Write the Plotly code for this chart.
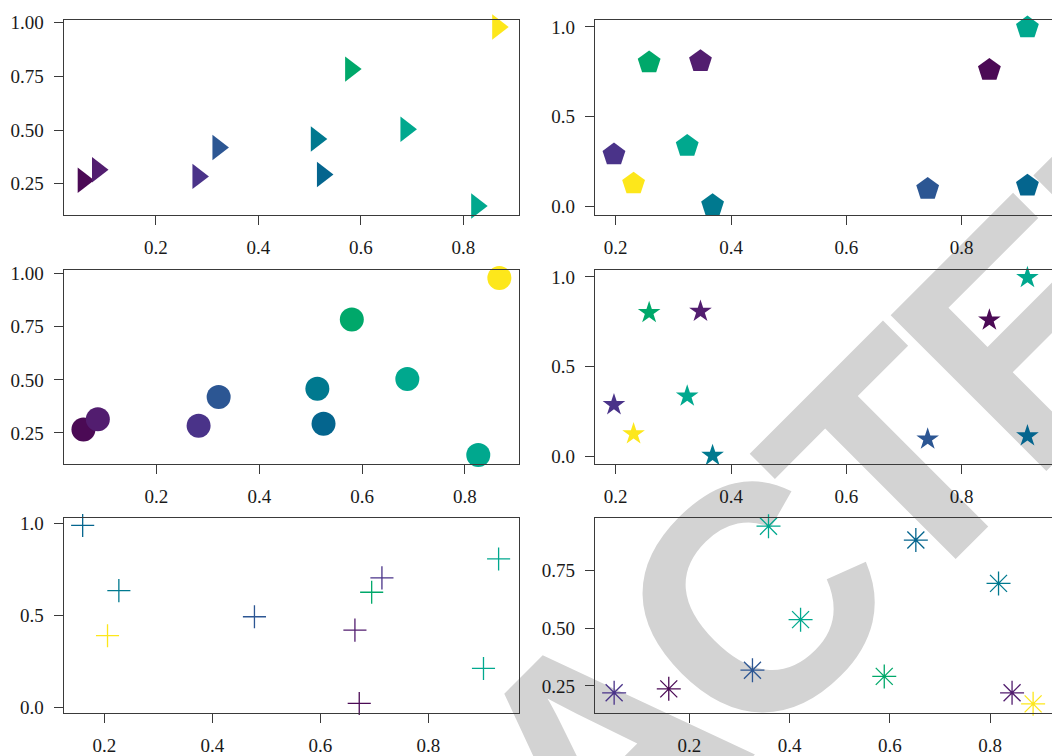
import plotly.graph_objects as go

# ---------------- data ----------------
# panels 1 and 3 (triangles, circles): same points
left_x = [0.058, 0.086, 0.282, 0.321, 0.513, 0.525, 0.580, 0.688, 0.826, 0.867]
left_y = [0.266, 0.315, 0.284, 0.419, 0.458, 0.293, 0.784, 0.504, 0.146, 0.980]
left_colors = ["#4B0A55", "#521D6F", "#4A3389", "#2C5693", "#00798F",
               "#04658E", "#00A86A", "#00A88E", "#00A88E", "#FDE71B"]

# panels 2 and 4 (pentagons, stars): same points
right_x = [0.197, 0.231, 0.258, 0.347, 0.324, 0.368, 0.741, 0.848, 0.914, 0.914]
right_y = [0.287, 0.125, 0.801, 0.808, 0.335, 0.004, 0.095, 0.759, 0.996, 0.113]
right_colors = ["#4A3389", "#FDE71B", "#00A86A", "#521D6F", "#00A88E",
                "#00798F", "#2C5693", "#4B0A55", "#00A88E", "#04658E"]

# panel 5 (crosses)
cross_x = [0.160, 0.227, 0.206, 0.478, 0.664, 0.672, 0.695, 0.714, 0.930, 0.902]
cross_y = [0.990, 0.636, 0.391, 0.494, 0.421, 0.023, 0.627, 0.705, 0.808, 0.213]
cross_colors = ["#04658E", "#00798F", "#FDE71B", "#2C5693", "#521D6F",
                "#4B0A55", "#00A86A", "#4A3389", "#00A88E", "#00A88E"]

# panel 6 (asterisks)
ast_x = [0.050, 0.159, 0.326, 0.358, 0.422, 0.589, 0.652, 0.817, 0.844, 0.886]
ast_y = [0.220, 0.237, 0.318, 0.942, 0.537, 0.291, 0.882, 0.694, 0.220, 0.172]
ast_colors = ["#4A3389", "#4B0A55", "#2C5693", "#00A88E", "#00A88E",
              "#00A86A", "#04658E", "#00798F", "#521D6F", "#FDE71B"]

x_ticks = [0.2, 0.4, 0.6, 0.8]
x_ticktext = ["0.2", "0.4", "0.6", "0.8"]
y_ticks_a = [0.25, 0.5, 0.75, 1.0]
y_ticktext_a = ["0.25", "0.50", "0.75", "1.00"]
y_ticks_b = [0.0, 0.5, 1.0]
y_ticktext_b = ["0.0", "0.5", "1.0"]
y_ticks_f = [0.25, 0.5, 0.75]
y_ticktext_f = ["0.25", "0.50", "0.75"]

watermark_letters = ["A", "C", "T", "E", "D"]

# ---------------- figure ----------------
W, H = 1052, 756
fig = go.Figure()

col_dom = {0: [63.6 / W, 519.3 / W], 1: [595.0 / W, 1.0]}
row_dom = {0: [1 - 210.7 / H, 1 - 12.7 / H],
           1: [1 - 465.0 / H, 1 - 267.3 / H],
           2: [1 - 718.3 / H, 1 - 519.7 / H]}

panels = [
    # (row, col, x, y, colors, symbol, size, xrange, yrange, yticks, yticktext)
    (0, 0, left_x, left_y, left_colors, "triangle-right", 22, [0.0198, 0.9092], [0.1052, 1.0105], y_ticks_a, y_ticktext_a),
    (0, 1, right_x, right_y, right_colors, "pentagon", 24, [0.1641, 0.9566], [-0.049, 1.036], y_ticks_b, y_ticktext_b),
    (1, 0, left_x, left_y, left_colors, "circle", 24, [0.0194, 0.9058], [0.1021, 1.0157], y_ticks_a, y_ticktext_a),
    (1, 1, right_x, right_y, right_colors, "star", 17, [0.1641, 0.9566], [-0.0454, 1.0367], y_ticks_b, y_ticktext_b),
    (2, 0, cross_x, cross_y, cross_colors, "cross-thin-open", 16.5, [0.1247, 0.9683], [-0.029, 1.030], y_ticks_b, y_ticktext_b),
    (2, 1, ast_x, ast_y, ast_colors, "asterisk-open", 20, [0.0118, 0.9237], [0.1324, 0.9771], y_ticks_f, y_ticktext_f),
]

tickfont = dict(family="Liberation Serif, Times New Roman, serif", size=19, color="#1a1a1a")
line_col = "#3a3a3a"

for i, (r, c, xs, ys, cols, sym, sz, xr, yr, yt, ytt) in enumerate(panels):
    n = i + 1
    xa = "x" if n == 1 else f"x{n}"
    ya = "y" if n == 1 else f"y{n}"
    marker = dict(symbol=sym, size=sz, color=cols, opacity=1)
    if sym.endswith("-open"):
        marker["line"] = dict(color=cols, width=1.3)
    else:
        marker["line"] = dict(width=0)
    fig.add_trace(go.Scatter(x=xs, y=ys, mode="markers", marker=marker,
                             xaxis=xa, yaxis=ya, cliponaxis=False,
                             showlegend=False, hoverinfo="x+y"))
    xkey = "xaxis" if n == 1 else f"xaxis{n}"
    ykey = "yaxis" if n == 1 else f"yaxis{n}"
    fig.layout[xkey] = dict(domain=col_dom[c], range=xr, anchor=ya,
                            tickvals=x_ticks, ticktext=x_ticktext,
                            showline=True, mirror=True, linecolor=line_col, linewidth=1.2,
                            ticks="outside", ticklen=9, tickwidth=1.2, tickcolor=line_col,
                            showgrid=False, zeroline=False, tickfont=tickfont,
                            ticklabelstandoff=6)
    fig.layout[ykey] = dict(domain=row_dom[r], range=yr, anchor=xa,
                            tickvals=yt, ticktext=ytt,
                            showline=True, mirror=(c == 0), linecolor=line_col, linewidth=1.2,
                            ticks="outside", ticklen=9, tickwidth=1.2, tickcolor=line_col,
                            showgrid=False, zeroline=False, tickfont=tickfont,
                            ticklabelstandoff=6)

# watermark letters, drawn beneath the markers, rotated 45 degrees
wm_size = 320
wm_along = [-109, 108, 305, 495.5, 706]      # letter centres along the text direction (px)
wm_perp = 955 - 0.642 * wm_size
for letter, a in zip(watermark_letters, wm_along):
    px = 0.70711 * (a + wm_perp)
    py = 0.70711 * (wm_perp - a)
    cx, cy = px / W, 1 - py / H
    fig.add_shape(type="rect", xref="paper", yref="paper",
                  x0=cx - 0.0005, x1=cx + 0.0005, y0=cy - 0.0005, y1=cy + 0.0005,
                  line=dict(width=0), fillcolor="rgba(0,0,0,0)", layer="below",
                  label=dict(text=letter, textangle=-45, textposition="middle center",
                             xanchor="center", yanchor="top", padding=0,
                             font=dict(family="Liberation Sans, Arial, sans-serif", size=wm_size,
                                       color="#D3D3D3", weight="bold")))

fig.update_layout(width=W, height=H, margin=dict(l=0, r=0, t=0, b=0),
                  paper_bgcolor="white", plot_bgcolor="white", showlegend=False)

fig.write_html("out.html", config={"displayModeBar": False},
               post_script="document.body.style.margin='0';document.body.style.overflow='hidden';")
